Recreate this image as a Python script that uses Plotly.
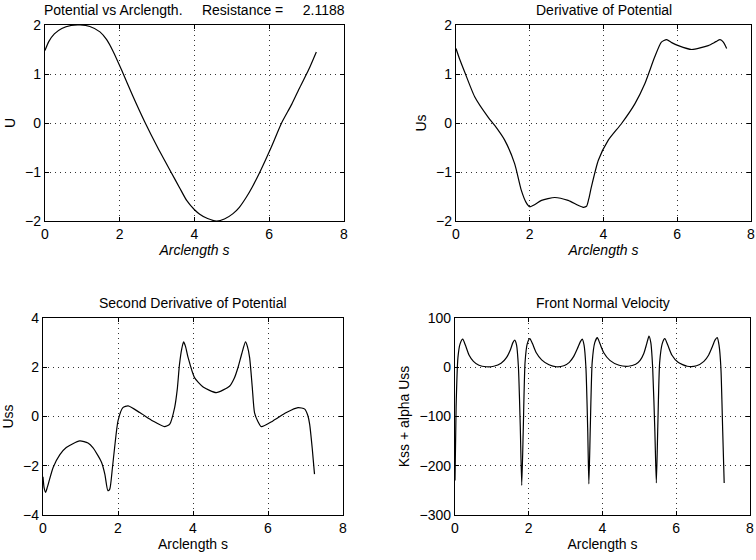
import plotly.graph_objects as go

# ---- data ----
s_U = [0.0, 0.1, 0.25, 0.45, 0.7, 0.94, 1.2, 1.47, 1.65, 1.83, 2.05, 2.35, 2.67, 3.0, 3.37, 3.6, 3.79, 4.0, 4.14, 4.35, 4.59, 4.8, 5.03, 5.2, 5.39, 5.55, 5.75, 6.05, 6.33, 6.6, 6.82, 7.05, 7.26]
U = [1.48, 1.66, 1.82, 1.93, 1.99, 2.0, 1.97, 1.86, 1.70, 1.45, 1.08, 0.55, 0.02, -0.48, -1.0, -1.32, -1.58, -1.77, -1.86, -1.95, -2.0, -1.96, -1.85, -1.72, -1.51, -1.3, -1.0, -0.5, 0.0, 0.38, 0.73, 1.08, 1.45]

s_Us = [0.0, 0.1, 0.235, 0.51, 0.87, 1.05, 1.32, 1.59, 1.77, 1.9, 2.0, 2.15, 2.32, 2.68, 3.04, 3.31, 3.45, 3.54, 3.6, 3.67, 3.86, 4.13, 4.49, 4.85, 5.12, 5.39, 5.57, 5.71, 5.85, 6.03, 6.39, 6.84, 7.05, 7.16, 7.25, 7.34]
Us = [1.52, 1.3, 1.04, 0.53, 0.12, -0.05, -0.35, -0.83, -1.37, -1.62, -1.71, -1.66, -1.58, -1.52, -1.58, -1.68, -1.72, -1.70, -1.55, -1.31, -0.76, -0.35, -0.01, 0.39, 0.8, 1.35, 1.65, 1.70, 1.64, 1.58, 1.5, 1.58, 1.66, 1.70, 1.65, 1.52]

s_Uss = [0.0, 0.03, 0.07, 0.12, 0.27, 0.45, 0.62, 0.98, 1.2, 1.33, 1.47, 1.56, 1.65, 1.73, 1.78, 1.85, 1.91, 2.0, 2.13, 2.27, 2.58, 2.93, 3.24, 3.38, 3.51, 3.58, 3.64, 3.7, 3.75, 3.8, 3.87, 4.04, 4.27, 4.62, 4.98, 5.1, 5.2, 5.3, 5.4, 5.45, 5.51, 5.58, 5.64, 5.73, 5.82, 6.13, 6.49, 6.8, 6.98, 7.06, 7.11, 7.18, 7.24]
Uss = [-2.45, -2.9, -3.08, -2.85, -2.07, -1.55, -1.26, -0.99, -1.08, -1.26, -1.6, -1.86, -2.35, -3.01, -2.95, -2.1, -1.26, -0.18, 0.36, 0.43, 0.16, -0.18, -0.41, -0.31, 0.36, 1.1, 2.12, 2.75, 3.03, 2.85, 2.39, 1.58, 1.2, 0.97, 1.24, 1.55, 1.99, 2.55, 3.03, 2.85, 2.39, 1.2, 0.16, -0.2, -0.41, -0.18, 0.16, 0.36, 0.3, 0.05, -0.31, -1.3, -2.34]

s_V = [0.0, 0.03, 0.08, 0.14, 0.21, 0.28, 0.38, 0.5, 0.65, 0.85, 1.05, 1.25, 1.4, 1.5, 1.57, 1.62, 1.67, 1.72, 1.77, 1.81, 1.85, 1.9, 1.96, 2.03, 2.1, 2.2, 2.35, 2.55, 2.75, 2.95, 3.1, 3.22, 3.32, 3.4, 3.45, 3.5, 3.55, 3.6, 3.63, 3.67, 3.72, 3.79, 3.86, 3.93, 4.03, 4.2, 4.45, 4.7, 4.9, 5.02, 5.12, 5.2, 5.26, 5.31, 5.36, 5.42, 5.46, 5.5, 5.55, 5.62, 5.69, 5.77, 5.88, 6.05, 6.3, 6.55, 6.75, 6.88, 6.98, 7.05, 7.11, 7.16, 7.21, 7.26, 7.3]
V = [-230, -80, 20, 48, 57, 45, 25, 12, 4, 1, 2, 8, 20, 35, 50, 55, 45, 0, -120, -240, -130, 10, 48, 58, 48, 30, 15, 5, 1, 3, 10, 22, 38, 52, 57, 45, 0, -130, -237, -120, 10, 50, 60, 48, 30, 14, 4, 2, 6, 14, 28, 48, 63, 50, 0, -130, -235, -120, 10, 48, 58, 45, 25, 10, 2, 3, 12, 25, 42, 55, 60, 45, 0, -130, -235]

x_ticks = [0, 2, 4, 6, 8]
NB = "\u00a0"
panels = [
    dict(x=s_U, y=U, title="Potential vs Arclength." + NB * 5 + "Resistance =" + NB * 5 + "2.1188", ytitle="U",
         xtitle="<i>Arclength s</i>", yrange=[-2, 2], ydtick=1,
         xdom=[45, 344], ydom=[25, 221]),
    dict(x=s_Us, y=Us, title="Derivative of Potential", ytitle="Us",
         xtitle="<i>Arclength s</i>", yrange=[-2, 2], ydtick=1,
         xdom=[456, 751], ydom=[25, 221]),
    dict(x=s_Uss, y=Uss, title="Second Derivative of Potential", ytitle="Uss",
         xtitle="Arclength s", yrange=[-4, 4], ydtick=2,
         xdom=[43, 343], ydom=[318, 515]),
    dict(x=s_V, y=V, title="Front Normal Velocity", ytitle="Kss + alpha Uss",
         xtitle="Arclength s", yrange=[-300, 100], ydtick=100,
         xdom=[455, 750], ydom=[318, 515]),
]

W, H = 756, 560
FONT = "Liberation Sans, Arial, sans-serif"
FS = 14
fig = go.Figure()
layout = dict(width=W, height=H, margin=dict(l=0, r=0, t=0, b=0, autoexpand=False),
              template="none",
              paper_bgcolor="white", plot_bgcolor="white", showlegend=False,
              font=dict(family=FONT, size=FS, color="black"))
annotations = []
for i, p in enumerate(panels, start=1):
    xa = "x" if i == 1 else f"x{i}"
    ya = "y" if i == 1 else f"y{i}"
    fig.add_trace(go.Scatter(x=p["x"], y=p["y"], mode="lines",
                             line=dict(color="black", width=1.2, shape="spline", smoothing=0.6),
                             xaxis=xa, yaxis=ya, hoverinfo="skip"))
    x0, x1 = p["xdom"][0] / W, p["xdom"][1] / W
    y0, y1 = 1 - p["ydom"][1] / H, 1 - p["ydom"][0] / H
    common = dict(showline=True, linecolor="black", linewidth=1.4, mirror="ticks",
                  ticks="inside", ticklen=4, tickcolor="black", automargin=False,
                  showgrid=True, gridcolor="#333333", griddash="1px,4px", gridwidth=1,
                  zeroline=False, tickfont=dict(family=FONT, size=FS, color="black"))
    layout["xaxis" + ("" if i == 1 else str(i))] = dict(
        domain=[x0, x1], range=[0, 8], tickvals=x_ticks, anchor=ya,
        title=dict(text=p["xtitle"], standoff=2, font=dict(size=FS)), **common)
    layout["yaxis" + ("" if i == 1 else str(i))] = dict(
        domain=[y0, y1], range=p["yrange"], dtick=p["ydtick"], anchor=xa,
        title=dict(text=p["ytitle"], standoff=6, font=dict(size=FS)), **common)
    annotations.append(dict(text=p["title"], x=(x0 + x1) / 2, y=y1, xref="paper", yref="paper",
                            xanchor="center", yanchor="bottom", yshift=5, showarrow=False,
                            font=dict(family=FONT, size=FS, color="black")))
layout["annotations"] = annotations
fig.update_layout(**layout)
fig.write_html("out.html")
